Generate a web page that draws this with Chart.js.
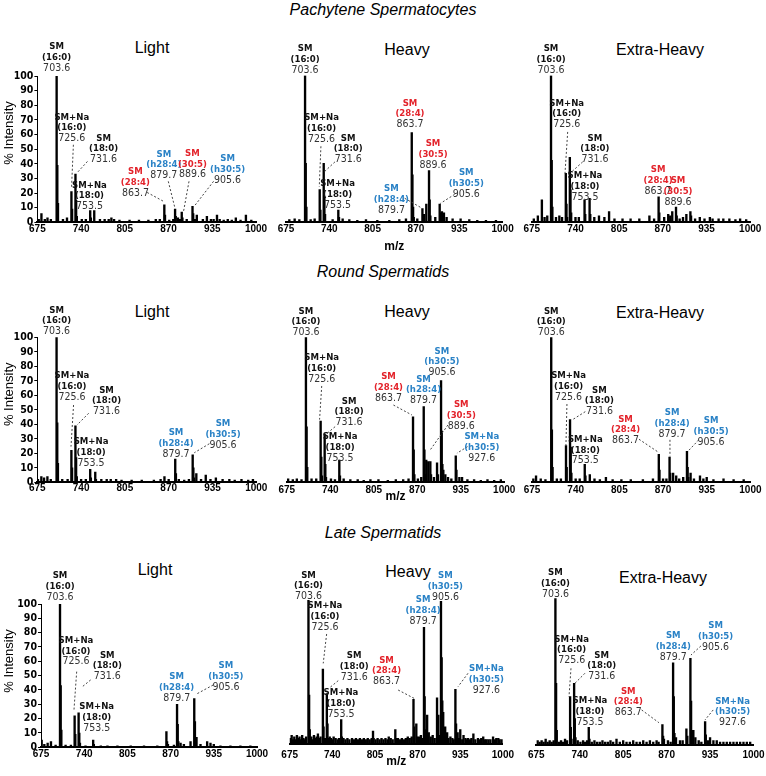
<!DOCTYPE html>
<html><head><meta charset="utf-8">
<title>SM spectra</title>
<script src="https://cdn.jsdelivr.net/npm/chart.js@4.4.1/dist/chart.umd.min.js"></script>
<style>
html,body{margin:0;padding:0;background:#fff}
body{position:relative;width:766px;height:776px;overflow:hidden;font-family:"Liberation Sans",Arial,sans-serif;color:#000}
.sec{position:absolute;left:0;width:766px;text-align:center;font-style:italic;font-size:16px;line-height:18px}
.ttl{position:absolute;width:160px;text-align:center;font-size:16px;line-height:18px}
canvas{position:absolute}
</style></head><body>
<script>
// ---------- tick labels / categories ----------
const mzTicks = [675, 740, 805, 870, 935, 1000];
const intensityTicks = [0, 10, 20, 30, 40, 50, 60, 70, 80, 90, 100];
const sections = ['Pachytene Spermatocytes', 'Round Spermatids', 'Late Spermatids'];
const fractions = ['Light', 'Heavy', 'Extra-Heavy'];

// ---------- spectra: [m/z, % intensity] ----------
const psLight = [[677,2],[681,6],[686,2],[690,3],[695,2],[703.6,100],[704.6,39],[705.6,13],[713,2],[719,3],[725.6,21],[726.6,9],[731.6,33],[732.6,15],[733.6,4],[741,2],[747,2],[753.5,8],[754.5,3],[759.5,8],[768,2],[775,2],[781,2],[785,3],[789,2],[797,1.5],[812,1.5],[826,1.5],[840,1.5],[851,2],[857,2],[863.7,12],[864.7,5],[871,1.5],[877,2],[879.7,9],[880.7,4],[884,3],[887,2],[889.6,7],[890.6,3],[897,2],[905.6,11],[906.6,6],[909,2],[912,5],[921,2],[927,4],[933,2],[937,2],[942,5],[946,2],[952,1.5],[958,2],[964,1.5],[970,3],[977,1.5],[985,5],[993,1.5]];
const psHeavy = [[680,1.5],[688,2],[695,1.5],[703.6,100],[704.6,40],[705.6,10],[712,1.5],[718,2],[725.6,22],[726.6,8],[731.6,40],[732.6,17],[733.6,5],[745,1.5],[753.5,8],[754.5,3],[760,2],[770,1.5],[782,1],[795,1.5],[812,1],[830,1],[845,1.5],[855,2],[863.7,61],[864.7,32],[865.7,10],[866.7,3],[872,2],[879.7,9],[882,5],[885.5,12],[889.6,35],[890.6,15],[891.6,4],[899,3],[905.6,12],[906.6,6],[909,7],[912,6],[916,3],[925,2],[937,2],[950,1.5],[962,1],[975,1],[990,1]];
const psXHeavy = [[678,2],[684,4],[690,15],[694,3],[698,4],[703.6,100],[704.6,42],[705.6,10],[711,3],[716,4],[720,3],[725.6,33],[726.6,12],[727.6,3],[731.6,44],[732.6,22],[733.6,6],[740,3],[745,3],[753.5,15],[754.5,5],[761,16],[762,5],[768,3],[775,4],[783,3],[790,7],[798,2],[810,2],[822,2],[835,2],[850,4],[857,2],[863.7,17],[864.7,6],[872,3],[878,5],[881,4],[884,7],[889.6,10],[890.6,4],[895,2],[900,3],[905,5],[911,7],[912,4],[918,2],[925,3],[932,2],[940,3],[944,2],[953,2],[960,2],[969,2],[978,1.5],[985,2],[994,1.5]];
const rsLight = [[676,2],[681,4],[685,3],[690,4],[695,2],[703.6,100],[704.6,41],[705.6,13],[712,2],[720,2],[725.6,22],[726.6,10],[731.6,39],[732.6,17],[733.6,4],[740,2],[747,2],[753.5,9],[754.5,3],[761,7],[762,2],[770,2],[778,2],[784,2],[792,2],[800,1.5],[815,1.5],[830,1.5],[848,1.5],[858,2],[863.7,4],[870,2],[879.7,16],[880.7,6],[885,2],[893,1.5],[900,2],[905.6,19],[906.6,10],[907.6,3],[911,6],[918,2],[925,5],[932,2],[940,3],[950,2],[960,2],[968,1.5],[978,2],[988,1.5],[995,2]];
const rsHeavy = [[677,2],[684,1.5],[690,2],[697,1.5],[703.6,100],[704.6,38],[705.6,10],[712,2],[719,2],[725.6,42],[726.6,17],[727.6,4],[731.6,33],[732.6,12],[733.6,3],[741,2],[747,1.5],[753.5,15],[754.5,4],[760,2],[770,1.5],[781,1.5],[790,1],[800,1.5],[812,1.5],[826,1],[838,1.5],[849,1.5],[857,2],[863.7,45],[864.7,22],[865.7,5],[871,2],[876,3],[879.7,52],[880.7,22],[881.7,5],[883.5,15],[886.5,14],[889.6,14],[890.6,5],[895,3],[899.6,13],[901,5],[905.6,70],[906.6,35],[907.6,12],[909,8],[912,5],[916,3],[921,2],[927.6,18],[928.6,8],[933,3],[937,3],[945,1.5],[955,1.5],[965,1],[975,1.5],[985,1],[995,1.5]];
const rsXHeavy = [[677,2],[681,4],[688,2],[695,1.5],[703.6,100],[704.6,36],[705.6,10],[712,2],[718,2],[725.6,25],[726.6,10],[731.6,43],[732.6,24],[733.6,6],[740,2],[746,2],[753.5,12],[754.5,4],[761,5],[768,2],[776,1.5],[785,3],[795,1.5],[808,1.5],[822,1.5],[840,1.5],[855,2],[863.7,19],[864.7,8],[870,2],[875,2],[879.7,17],[880.7,6],[885,6],[889.6,4],[894,2],[900,3],[905.6,21],[906.6,10],[907.6,3],[911,6],[916,2],[925,4],[930,2],[935,3],[945,1.5],[960,2],[975,1.5],[990,1.5]];
const lsLight = [[676,5],[680,2],[685,3],[690,4],[697,1.5],[703.6,100],[704.6,43],[705.6,12],[712,1.5],[720,1.5],[725.6,22],[726.6,9],[731.6,24],[732.6,10],[733.6,3],[742,1],[753.5,5],[754.5,2],[765,1],[775,1],[790,1],[810,1],[830,1],[850,1],[863.7,11],[864.7,4],[866,2],[875,1.5],[879.7,30],[880.7,16],[881.7,4],[885,3],[890,2],[900,4],[905.6,34],[906.6,18],[907.6,6],[909,7],[915,2],[925,4],[930,3],[935,2],[945,1],[960,1],[975,1],[990,1]];
const lsHeavy = [[676,4],[678,6],[680,3],[682,5],[684,3],[686,6],[688,4],[690,5],[692,3],[694,6],[696,4],[698,3],[700,5],[703.6,100],[704.6,34],[705.6,10],[708,5],[710,3],[712,6],[714,4],[716,5],[718,7],[720,4],[722,5],[725.6,52],[726.6,12],[727.6,4],[729,4],[731.6,35],[732.6,14],[733.6,4],[736,5],[738,4],[740,3],[742,5],[745,4],[748,3],[750,4],[753.5,17],[754.5,5],[757,4],[760,3],[763,4],[766,3],[770,4],[773,3],[776,4],[779,3],[782,4],[785,3],[788,4],[791,3],[794,4],[797,3],[800,4],[802,9],[803,4],[806,3],[809,4],[812,3],[815,4],[818,3],[821,4],[824,3],[826,5],[829,4],[832,3],[836,10],[837,4],[840,4],[843,3],[846,4],[849,3],[852,4],[855,5],[858,4],[861,5],[863.7,31],[864.7,12],[868,14],[869,5],[872,5],[875,6],[877,4],[879.7,81],[880.7,33],[881.7,10],[884.5,20],[887,8],[890,5],[893,6],[896,4],[899.6,32],[901.6,20],[903,6],[905.6,99],[906.6,60],[907.6,30],[909,22],[912,12],[915,8],[917,4],[920,5],[923,4],[925,3],[927.6,38],[928.6,14],[931,8],[933,4],[935,10],[938,3],[940,6],[943,4],[945,3],[947,4],[950,3],[952,4],[955,7],[958,3],[962,4],[965,3],[967,4],[970,5],[973,3],[975,3],[978,3],[981,3],[985,5],[988,3],[990,4],[993,4],[995,3],[998,3]];
const lsXHeavy = [[677,3],[680,2],[683,3],[686,2],[689,4],[692,2],[695,3],[698,2],[701,3],[703.6,100],[704.6,42],[705.6,10],[709,2],[712,3],[715,2],[718,4],[721,3],[725.6,33],[726.6,12],[727.6,4],[731.6,42],[732.6,18],[733.6,5],[737,3],[741,2],[745,3],[748,2],[751,3],[753.5,12],[754.5,4],[758,2],[762,3],[766,2],[770,2],[774,3],[778,2],[782,2],[786,3],[790,2],[795,4],[800,2],[805,3],[810,2],[815,2],[820,3],[825,2],[830,2],[835,3],[840,2],[845,3],[850,2],[855,3],[858,2],[863.7,14],[864.7,6],[866,4],[872,3],[876,2],[879.7,56],[880.7,33],[881.7,8],[884,5],[890,3],[894,3],[899.6,11],[901,6],[905.6,59],[906.6,30],[907.6,10],[910,10],[913,5],[918,3],[922,2],[927.6,16],[928.6,7],[932,3],[935,5],[940,3],[945,3],[950,2],[955,2],[960,2],[965,2],[970,2],[975,2],[980,2],[985,2],[990,2],[995,2]];

// ---------- peak annotations: [line1, line2, m/z text, colour key, label m/z, label %, leader [m/z,% -> m/z,%]] ----------
const psLightLabels = [
 ['SM','(16:0)','703.6','k',703.6,105.6],
 ['SM+Na','(16:0)','725.6','k',726.1,57.2,[728.5,53,725.7,23]],
 ['SM','(18:0)','731.6','k',773.4,42.8,[749.4,41.6,734.5,34.1]],
 ['SM+Na','(18:0)','753.5','k',752.4,10.8],
 ['SM','(28:4)','863.7','r',820.7,20,[838.2,20.4,863,14.2]],
 ['SM','(h28:4)','879.7','b',863,32,[869.6,28,879.5,9.7]],
 ['SM','(30:5)','889.6','r',905.5,32.5,[900.4,28,892,6.7]],
 ['SM','(h30:5)','905.6','b',957.8,29,[936.9,28,907.9,10.8]]
];
const psHeavyLabels = [
 ['SM','(16:0)','703.6','k',703.6,103.9],
 ['SM+Na','(16:0)','725.6','k',728.4,56.4,[727.4,51.6,724.9,23.9]],
 ['SM','(18:0)','731.6','k',768.3,42.4,[748.4,40.9,732.4,34.1]],
 ['SM+Na','(18:0)','753.5','k',752.4,11.4],
 ['SM','(28:4)','863.7','r',861,66.4],
 ['SM','(h28:4)','879.7','b',833.2,8,[853.1,16,879.6,9.1]],
 ['SM','(30:5)','889.6','r',895.6,38.7],
 ['SM','(h30:5)','905.6','b',945.5,18.9,[928,18.7,906.6,12.5]]
];
const psXHeavyLabels = [
 ['SM','(16:0)','703.6','k',703.6,103.9],
 ['SM+Na','(16:0)','725.6','k',726.9,66.4,[728.4,61.4,724.4,33]],
 ['SM','(18:0)','731.6','k',768.9,42.4,[750.7,40.9,734.3,34.1]],
 ['SM+Na','(18:0)','753.5','k',754.1,17],
 ['SM','(28:4)','863.7','r',862.9,20.9],
 ['SM','(30:5)','889.6','r',892.5,13.6]
];
const rsLightLabels = [
 ['SM','(16:0)','703.6','k',703.6,103.9],
 ['SM+Na','(16:0)','725.6','k',726.4,58.6,[728.8,53.3,725,24.6]],
 ['SM','(18:0)','731.6','k',777.7,48.7,[751.2,47.6,733.9,39.5]],
 ['SM+Na','(18:0)','753.5','k',754.8,13.1],
 ['SM','(h28:4)','879.7','b',880.8,19.5],
 ['SM','(h30:5)','905.6','b',950.6,25.7,[930.3,26.6,908,20.4]]
];
const rsHeavyLabels = [
 ['SM','(16:0)','703.6','k',703.6,103.2],
 ['SM+Na','(16:0)','725.6','k',727.2,70.9,[727.2,66.3,724,43]],
 ['SM','(18:0)','731.6','k',768.1,40.9,[747.2,38.1,732.2,32.3]],
 ['SM+Na','(18:0)','753.5','k',754.6,16.2],
 ['SM','(28:4)','863.7','r',827,57.8,[834.4,53.1,862,46.2]],
 ['SM','(h28:4)','879.7','b',879.4,56.1],
 ['SM','(h30:5)','905.6','b',906.9,75.5],
 ['SM','(30:5)','889.6','r',935.8,38.6,[915.9,39.3,889.4,22]],
 ['SM+Na','(h30:5)','927.6','b',966.5,16.2,[945.2,24.3,929.3,19.7]]
];
const rsXHeavyLabels = [
 ['SM','(16:0)','703.6','k',703.6,103.2],
 ['SM+Na','(16:0)','725.6','k',729.4,58.4,[727,53.8,725.5,25.4]],
 ['SM','(18:0)','731.6','k',775.3,48.5,[754.3,48.5,734.4,42.7]],
 ['SM+Na','(18:0)','753.5','k',754.3,14.5],
 ['SM','(28:4)','863.7','r',814.2,28.4,[834.2,29.4,864.1,20.1]],
 ['SM','(h28:4)','879.7','b',883.5,33,[880.3,29,880.3,17.5]],
 ['SM','(h30:5)','905.6','b',941.5,27.3,[923,28.9,906.5,20.8]]
];
const lsLightLabels = [
 ['SM','(16:0)','703.6','k',703.6,104.7],
 ['SM+Na','(16:0)','725.6','k',727.6,59.7,[728.7,52.8,724.6,26]],
 ['SM','(18:0)','731.6','k',774.7,49.3,[749.7,47,736.2,41.9]],
 ['SM+Na','(18:0)','753.5','k',758.8,13.3],
 ['SM','(h28:4)','879.7','b',879.1,34.2],
 ['SM','(h30:5)','905.6','b',953.2,41.9,[934.1,43.5,909.1,37.2]]
];
const lsHeavyLabels = [
 ['SM','(16:0)','703.6','k',703.6,102.3],
 ['SM+Na','(16:0)','725.6','k',728.7,81,[731.3,76.4,726.1,56]],
 ['SM','(18:0)','731.6','k',773.3,46.3,[749,44,734.8,38.7]],
 ['SM+Na','(18:0)','753.5','k',753.1,20.8],
 ['SM','(28:4)','863.7','r',822.6,43.3,[840.3,37.5,864.7,31.7]],
 ['SM','(h28:4)','879.7','b',878.4,85.4],
 ['SM','(h30:5)','905.6','b',912.4,101.9],
 ['SM+Na','(h30:5)','927.6','b',974.8,37.5,[946.8,49.1,931.6,39.8]]
];
const lsXHeavyLabels = [
 ['SM','(16:0)','703.6','k',703.6,102.9],
 ['SM+Na','(16:0)','725.6','k',727.9,57.5,[726.9,52.3,723.9,32.9]],
 ['SM','(18:0)','731.6','k',772.8,46.6,[747.8,48.9,731.8,41.6]],
 ['SM+Na','(18:0)','753.5','k',755.3,15.5],
 ['SM','(28:4)','863.7','r',812.6,22,[832.6,23.9,858.5,15.2]],
 ['SM','(h28:4)','879.7','b',879.9,59.8],
 ['SM','(h30:5)','905.6','b',943.3,66.6,[921.3,67.5,906.4,61.3]],
 ['SM+Na','(h30:5)','927.6','b',968.7,15.2,[939.7,23.9,927.3,17]]
];

// ---------- layout (page pixels) ----------
const panels = [
 {series: psLight,  labels: psLightLabels,  box: [37.4, 256, 76, 222.3],    title: [152, 48], tickPad: 1},
 {series: psHeavy,  labels: psHeavyLabels,  box: [286, 502.6, 75.5, 221.7], title: [407, 50], tickPad: 1.6},
 {series: psXHeavy, labels: psXHeavyLabels, box: [531.8, 750.2, 75.5, 221.7], title: [660, 50], tickPad: 1.6},
 {series: rsLight,  labels: rsLightLabels,  box: [37.3, 256.3, 337.3, 482.3], title: [152, 312], tickPad: 0},
 {series: rsHeavy,  labels: rsHeavyLabels,  box: [286.8, 504.2, 337.3, 481.7], title: [407, 312], tickPad: 3},
 {series: rsXHeavy, labels: rsXHeavyLabels, box: [532, 750.4, 337.3, 481.7], title: [660, 313], tickPad: 3},
 {series: lsLight,  labels: lsLightLabels,  box: [41, 257, 604, 747.3],     title: [155, 570], tickPad: 1},
 {series: lsHeavy,  labels: lsHeavyLabels,  box: [289.7, 502.9, 600, 744],  title: [408, 572], tickPad: 5},
 {series: lsXHeavy, labels: lsXHeavyLabels, box: [536.3, 753.5, 598.3, 745], title: [663, 578], tickPad: 4}
];
const sectionTop = [1, 263, 524];
const xAxisH = [32.2, 21.9, 24.9];

const FONT = '"Liberation Sans", Arial, sans-serif';
const FONT_N = '"Liberation Sans Narrow", "Arial Narrow", "DejaVu Sans Condensed", "Liberation Sans", sans-serif';
const COLORS = {k: '#111111', r: '#e3232b', b: '#2a82c6'};

const peakLabelPlugin = {
  id: 'peakLabels',
  afterDraw(chart, args, opts) {
    const {ctx, chartArea} = chart;
    const xs = chart.scales.x, ys = chart.scales.y;
    const LH = 10.7;
    ctx.save();
    for (const it of (opts.items || [])) {
      const [n1, n2, num, c, lx, ly, lead] = it;
      if (lead) {
        ctx.beginPath();
        ctx.setLineDash([2, 2]);
        ctx.lineWidth = 1;
        ctx.strokeStyle = '#444';
        ctx.moveTo(xs.getPixelForValue(lead[0]), ys.getPixelForValue(lead[1]));
        ctx.lineTo(xs.getPixelForValue(lead[2]), ys.getPixelForValue(lead[3]));
        ctx.stroke();
        ctx.setLineDash([]);
      }
      const px = xs.getPixelForValue(lx), py = ys.getPixelForValue(ly);
      ctx.textAlign = 'center';
      ctx.textBaseline = 'middle';
      ctx.fillStyle = COLORS[c];
      ctx.font = 'bold 9.5px ' + FONT_N;
      ctx.fillText(n1, px, py - 2 * LH);
      ctx.fillText(n2, px, py - LH);
      ctx.fillStyle = '#333';
      ctx.font = '10.5px ' + FONT_N;
      ctx.fillText(num, px, py);
    }
    if (opts.yTitle) {
      ctx.translate(9, chartArea.top + 57);
      ctx.rotate(-Math.PI / 2);
      ctx.textAlign = 'center';
      ctx.textBaseline = 'middle';
      ctx.font = '13px ' + FONT;
      ctx.fillStyle = '#000';
      ctx.fillText('% Intensity', 0, 0);
    }
    ctx.restore();
  }
};

sections.forEach((s, r) => {
  const d = document.createElement('div');
  d.className = 'sec';
  d.style.top = sectionTop[r] + 'px';
  d.textContent = s;
  document.body.appendChild(d);
});

panels.forEach((p, i) => {
  const row = Math.floor(i / 3), col = i % 3;
  const [L, R, T, B] = p.box;
  const xH = xAxisH[row];
  const cl = col === 0 ? 0 : Math.floor(L - 30);
  const ct = Math.floor(T - 54);
  const cw = Math.ceil(R + 22 - cl);
  const ch = Math.ceil(B + xH - ct) + 1;

  const t = document.createElement('div');
  t.className = 'ttl';
  t.style.left = (p.title[0] - 80) + 'px';
  t.style.top = (p.title[1] - 9) + 'px';
  t.textContent = fractions[col];
  document.body.appendChild(t);

  const cv = document.createElement('canvas');
  cv.width = cw; cv.height = ch;
  cv.style.left = cl + 'px'; cv.style.top = ct + 'px';
  cv.style.width = cw + 'px'; cv.style.height = ch + 'px';
  document.body.appendChild(cv);

  new Chart(cv, {
    type: 'bar',
    data: {
      datasets: [{
        label: sections[row] + ' - ' + fractions[col],
        data: p.series.map(([m, v]) => ({x: m, y: v})),
        backgroundColor: '#000',
        borderWidth: 0,
        barThickness: 1.7
      }]
    },
    options: {
      responsive: false,
      animation: false,
      devicePixelRatio: 1,
      events: [],
      layout: {padding: {left: col === 0 ? 0 : L - cl, top: T - ct, right: cw - (R - cl), bottom: ch - (B - ct) - xH}},
      plugins: {
        legend: {display: false},
        tooltip: {enabled: false},
        title: {display: false},
        peakLabels: {items: p.labels, yTitle: col === 0}
      },
      scales: {
        x: {
          type: 'linear', min: 675, max: 1000, offset: false,
          afterBuildTicks: s => { s.ticks = mzTicks.map(v => ({value: v})); },
          afterFit: s => { s.height = xH; },
          grid: {display: false, drawTicks: false},
          border: {display: true, color: '#000', width: 2},
          ticks: {padding: p.tickPad, color: '#000', maxRotation: 0, autoSkip: false,
                  font: {family: FONT, size: 10, weight: 'bold'}, callback: v => String(v)},
          title: {display: col === 1, text: 'm/z', color: '#000', padding: 0,
                  font: {family: FONT, size: 12, weight: 'bold'}}
        },
        y: {
          display: col === 0, min: 0, max: 100,
          afterBuildTicks: s => { s.ticks = intensityTicks.map(v => ({value: v})); },
          afterFit: s => { s.width = col === 0 ? L - cl : 0; },
          grid: {display: true, drawOnChartArea: false, drawTicks: true, tickLength: 3, color: '#000', lineWidth: 1},
          border: {display: true, color: '#000', width: 1},
          ticks: {padding: 1, color: '#000', autoSkip: false, font: {family: FONT_N, size: 10.5, weight: 'bold'}, callback: v => String(v)}
        }
      }
    },
    plugins: [peakLabelPlugin]
  });
});
</script>
</body></html>
